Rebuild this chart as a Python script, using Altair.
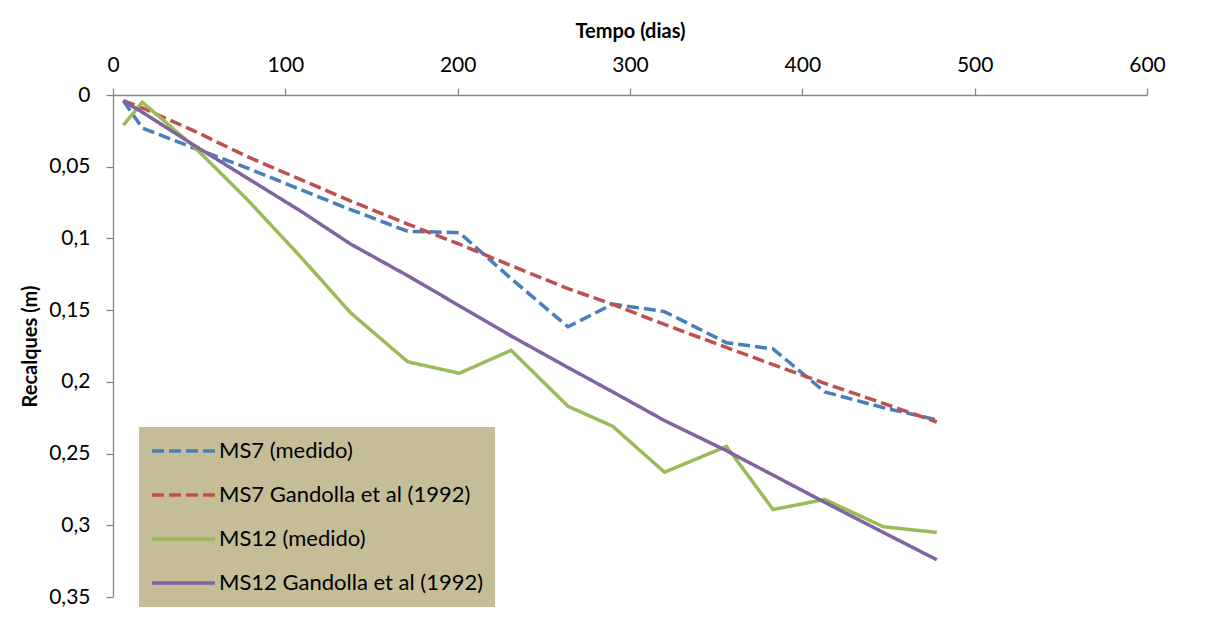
import altair as alt
import pandas as pd

dias = [6, 17, 47, 78, 109, 138, 171, 201, 231, 264, 290, 320, 356, 383, 413, 447, 478]
ms7_medido = [0.004, 0.023, 0.037, 0.051, 0.066, 0.080, 0.095, 0.096, 0.128, 0.1616,
              0.1458, 0.151, 0.1727, 0.177, 0.207, 0.218, 0.2265]
ms7_gandolla = [0.004, 0.009, 0.025, 0.043, 0.059, 0.074, 0.090, 0.104, 0.119, 0.135,
                0.146, 0.160, 0.176, 0.188, 0.201, 0.215, 0.228]
ms12_medido = [0.021, 0.005, 0.036, 0.073, 0.113, 0.152, 0.186, 0.194, 0.178, 0.217,
               0.231, 0.263, 0.245, 0.289, 0.282, 0.301, 0.305]
ms12_gandolla = [0.004, 0.012, 0.035, 0.058, 0.081, 0.104, 0.126, 0.147, 0.168, 0.190,
                 0.207, 0.227, 0.248, 0.265, 0.284, 0.305, 0.324]

series = ["MS7 (medido)", "MS7 Gandolla et al (1992)", "MS12 (medido)", "MS12 Gandolla et al (1992)"]
colors = ["#4A7EBB", "#C0504D", "#9BBB59", "#8064A2"]
dashes = [[12, 5], [12, 5], [1, 0], [1, 0]]
x_ticks = [0, 100, 200, 300, 400, 500, 600]
y_ticks = [0, 0.05, 0.1, 0.15, 0.2, 0.25, 0.3, 0.35]

rows = []
for name, vals in zip(series, [ms7_medido, ms7_gandolla, ms12_medido, ms12_gandolla]):
    for d, v in zip(dias, vals):
        rows.append({"serie": name, "dias": d, "recalque": v})
df = pd.DataFrame(rows)

FONT = "Lato"

chart = alt.Chart(df).mark_line(strokeWidth=3.5).encode(
    x=alt.X("dias:Q",
            scale=alt.Scale(domain=[0, 600], nice=False, zero=False),
            axis=alt.Axis(orient="top", values=x_ticks, title="Tempo (dias)",
                          grid=False, tickSize=7, labelPadding=13, labelFlush=False,
                          titleX=517, titleY=-58, titleBaseline="alphabetic",
                          titleAnchor="middle")),
    y=alt.Y("recalque:Q",
            scale=alt.Scale(domain=[0, 0.35], reverse=True, nice=False),
            axis=alt.Axis(values=y_ticks, title="Recalques (m)", grid=False,
                          tickSize=7, labelPadding=16, labelFlush=False,
                          labelExpr="replace(format(datum.value, '.2~f'), '.', ',')",
                          titleX=-83, titleY=251, titleAngle=-90,
                          titleBaseline="middle", titleAnchor="middle")),
    color=alt.Color("serie:N",
                    scale=alt.Scale(domain=series, range=colors),
                    legend=alt.Legend(title=None, orient="none", legendX=26, legendY=332,
                                      fillColor="#C4BD97", padding=11,
                                      symbolType="stroke", symbolSize=3969,
                                      symbolStrokeWidth=3.5, clipHeight=26,
                                      rowPadding=18, labelOffset=2,
                                      labelFontSize=22, labelFont=FONT,
                                      labelColor="#000000", labelLimit=400)),
    strokeDash=alt.StrokeDash("serie:N",
                              scale=alt.Scale(domain=series, range=dashes),
                              legend=alt.Legend(title=None, orient="none", legendX=26, legendY=332)),
    order=alt.Order("dias:Q"),
    detail="serie:N",
).properties(
    width=1034,
    height=502,
    padding={"left": 105, "top": 87, "right": 40, "bottom": 20},
    autosize=alt.AutoSizeParams(type="none"),
).configure_view(
    stroke=None
).configure_axis(
    domainColor="#868686",
    tickColor="#868686",
    domainWidth=1.3,
    tickWidth=1.3,
    labelFont=FONT,
    labelFontSize=21,
    labelColor="#000000",
    titleFont=FONT,
    titleFontSize=20,
    titleFontWeight="bold",
    titleColor="#000000",
)

chart.save("out.html", embed_options={"renderer": "svg", "actions": False})
